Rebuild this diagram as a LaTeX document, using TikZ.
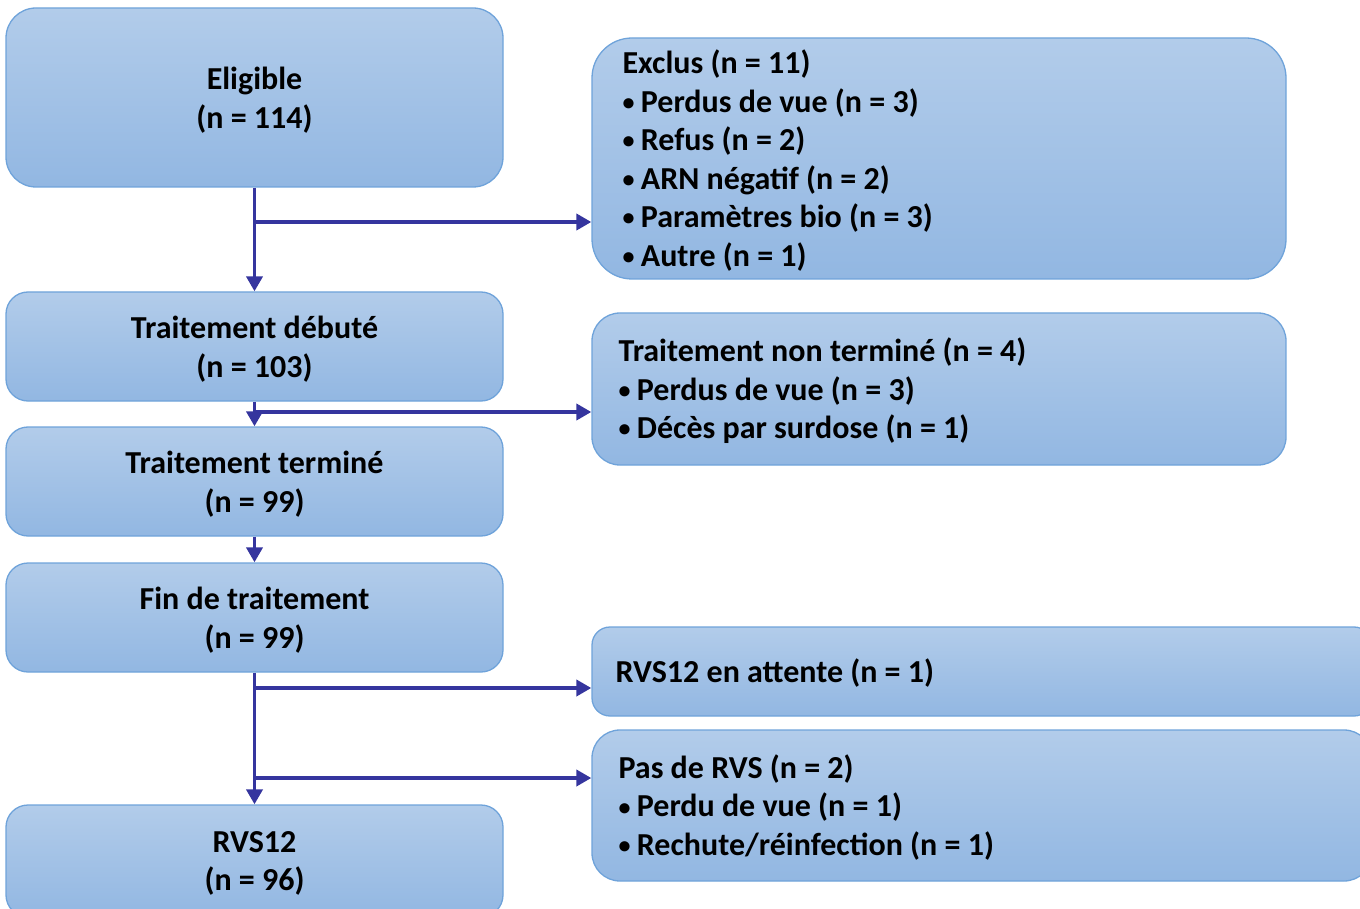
\documentclass[tikz,border=0pt]{standalone}
\usepackage{fontspec}
\setmainfont{Carlito}
\usetikzlibrary{arrows.meta}
\definecolor{boxtop}{HTML}{B2CCEA}
\definecolor{boxbot}{HTML}{92B7E2}
\definecolor{boxline}{HTML}{6FA3DA}
\definecolor{arrcol}{HTML}{35359E}
\newcommand{\bul}{\raisebox{0.06em}{\scalebox{0.75}{•}}\hspace{0.2em}}
\newcommand{\pre}{\spaceskip=0pt\xspaceskip=0pt\relax}
\tikzset{
  box/.style={draw=boxline, line width=1.3pt, top color=boxtop, bottom color=boxbot,
    rounded corners=30pt, inner sep=0pt},
  txt/.style={inner sep=0pt, font=\bfseries\fontsize{32}{38.5}\selectfont},
  txtc/.style={txt, align=flush center, text width=497pt},
  txtl/.style={txt, align=flush left, text width=#1, anchor=west},
  arr/.style={draw=arrcol, line width=3.8pt, -{Triangle[length=15pt,width=16pt]}}
}
\begin{document}
\begin{tikzpicture}[x=1pt,y=-1pt]
\useasboundingbox (0,0) rectangle (1360,909);
\clip (0,0) rectangle (1360,909);
% left column boxes
\node[box, minimum width=497pt, minimum height=179pt] (elig) at (254.5,97.5) {};
\node[box, minimum width=497pt, minimum height=109pt, rounded corners=22pt] (deb) at (254.5,346.5) {};
\node[box, minimum width=497pt, minimum height=109pt, rounded corners=22pt] (term) at (254.5,481.5) {};
\node[box, minimum width=497pt, minimum height=109pt, rounded corners=22pt] (fin) at (254.5,617.5) {};
\node[box, minimum width=497pt, minimum height=112pt, rounded corners=22pt] (rvs) at (254.5,861) {};
% right column boxes
\node[box, minimum width=694pt, minimum height=241pt, rounded corners=40pt] (excl) at (939,158.5) {};
\node[box, minimum width=694pt, minimum height=152pt, rounded corners=28pt] (nt) at (939,389) {};
\node[box, minimum width=780pt, minimum height=89pt, rounded corners=18pt] (att) at (982,671.5) {};
\node[box, minimum width=780pt, minimum height=151pt, rounded corners=28pt] (pas) at (982,805.5) {};
% texts
\node[txtc] (eligT) at ([yshift=-2.5pt]elig.center) {\pre Eligible\\(n = 114)};
\node[txtc] (debT) at ([yshift=-2.5pt]deb.center) {\pre Traitement débuté\\(n = 103)};
\node[txtc] (termT) at ([yshift=-2.5pt]term.center) {\pre Traitement terminé\\(n = 99)};
\node[txtc] (finT) at ([yshift=-2.5pt]fin.center) {\pre Fin de traitement\\(n = 99)};
\node[txtc] (rvsT) at ([yshift=-2.5pt]rvs.center) {\pre RVS12\\(n = 96)};
\node[txtl=630pt] (exclT) at ([xshift=31pt,yshift=-2pt]excl.west) {\pre Exclus (n = 11)\\\bul Perdus de vue (n = 3)\\\bul Refus (n = 2)\\\bul ARN négatif (n = 2)\\\bul Paramètres bio (n = 3)\\\bul Autre (n = 1)};
\node[txtl=640pt] (ntT) at ([xshift=27pt,yshift=-2pt]nt.west) {\pre Traitement non terminé (n = 4)\\\bul Perdus de vue (n = 3)\\\bul Décès par surdose (n = 1)};
\node[txtl=700pt] (attT) at ([xshift=24pt,yshift=-2pt]att.west) {\pre RVS12 en attente (n = 1)};
\node[txtl=700pt] (pasT) at ([xshift=27pt,yshift=-2pt]pas.west) {\pre Pas de RVS (n = 2)\\\bul Perdu de vue (n = 1)\\\bul Rechute/réinfection (n = 1)};
% connectors
\coordinate (b1) at (255,222);
\coordinate (b2) at (255,412);
\coordinate (b3) at (255,688);
\coordinate (b4) at (255,778);
\draw[arr] (elig.south) -- (deb.north);
\draw[arr] (b1) -- (b1 -| excl.west);
\draw[arr] (deb.south) -- (term.north);
\draw[arr] (b2) -- (b2 -| nt.west);
\draw[arr] (term.south) -- (fin.north);
\draw[arr] (fin.south) -- (rvs.north);
\draw[arr] (b3) -- (b3 -| att.west);
\draw[arr] (b4) -- (b4 -| pas.west);
\end{tikzpicture}
\end{document}
